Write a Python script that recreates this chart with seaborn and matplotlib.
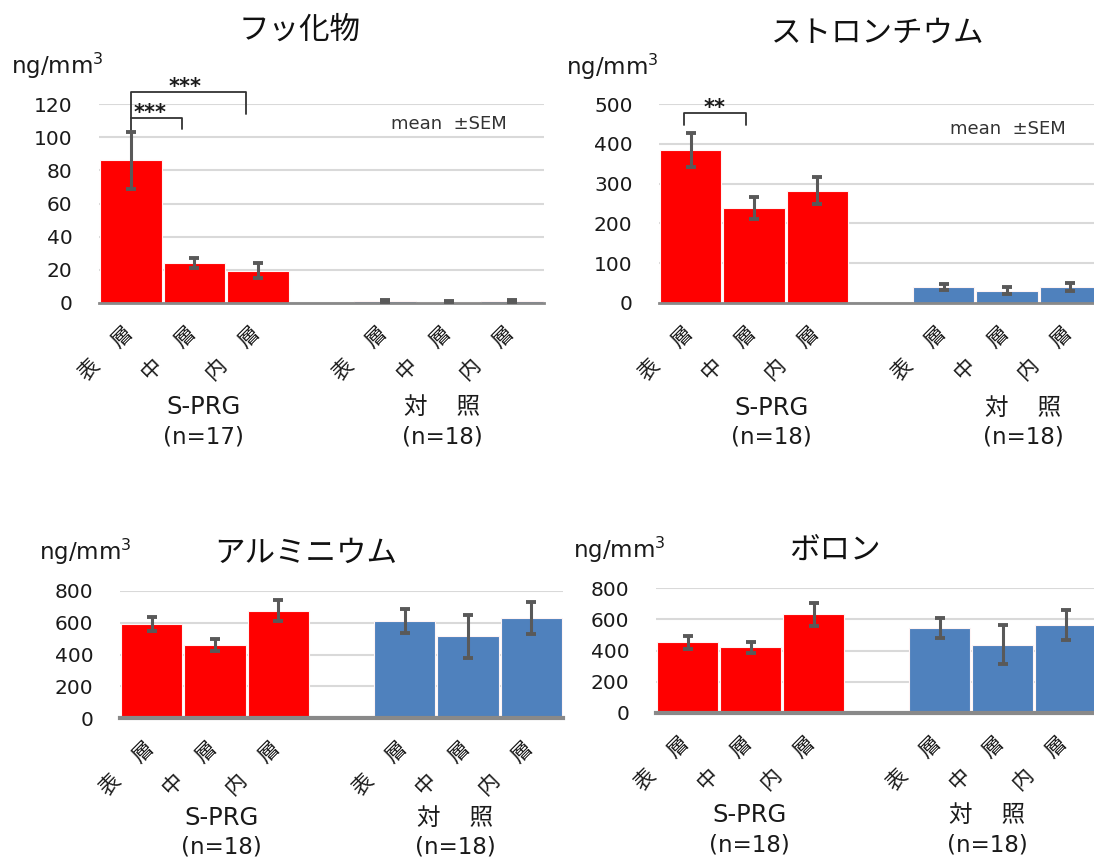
import numpy as np
import pandas as pd
import matplotlib
matplotlib.use("Agg")
import matplotlib.pyplot as plt
import matplotlib.transforms as mtransforms
import seaborn as sns

# ---- data -------------------------------------------------------------
layers = ["表\u3000 層", "中\u3000 層", "内\u3000 層"]
groups = ["S-PRG", "対\u3000 照"]
positions = [0, 1, 2, 4, 5, 6]

fluoride_mean = [86, 24, 19.4, 1.2, 0.9, 1.4]
fluoride_sem = [17, 3, 4.6, 0.6, 0.5, 0.6]
strontium_mean = [385, 238, 282, 40, 31, 40]
strontium_sem = [43, 28, 34, 7, 8, 9]
aluminium_mean = [590, 457, 675, 611, 515, 632]
aluminium_sem = [45, 38, 67, 74, 134, 101]
boron_mean = [453, 421, 632, 543, 438, 564]
boron_sem = [43, 35, 73, 66, 125, 95]

titles = ["フッ化物", "ストロンチウム", "アルミニウム", "ボロン"]
n_sprg = ["(n=17)", "(n=18)", "(n=18)", "(n=18)"]
n_ctrl = ["(n=18)", "(n=18)", "(n=18)", "(n=18)"]
yticks_list = [
    [0, 20, 40, 60, 80, 100, 120],
    [0, 100, 200, 300, 400, 500],
    [0, 200, 400, 600, 800],
    [0, 200, 400, 600, 800],
]
unit = r"ng/mm$^3$"

RED = "#FF0000"
BLUE = "#4F81BD"
ERR = "#595959"
TXT = "#1A1A1A"

W, H = 1094, 859
sns.set_theme(style="white")
plt.rcParams["font.family"] = ["Noto Sans CJK JP", "DejaVu Sans"]
plt.rcParams["mathtext.default"] = "regular"
LATIN = ["DejaVu Sans", "Noto Sans CJK JP"]
CJK = ["Noto Sans CJK JP", "DejaVu Sans"]

fig = plt.figure(figsize=(W / 100, H / 100), dpi=100)


def px_axes(x0, x1, ytop, ybot):
    return fig.add_axes([x0 / W, 1 - ybot / H, (x1 - x0) / W, (ybot - ytop) / H])


def fig_xy(x, y):
    return x / W, 1 - y / H


panels = [
    dict(box=(99, 544, 104, 303), mean=fluoride_mean, sem=fluoride_sem,
         title_xy=(300, 30), unit_xy=(11, 66), spine_lw=2.0,
         grp_x=(1.15, 4.9), grp_y=(407, 437), note=(4.1, 108)),
    dict(box=(659, 1102, 104, 303), mean=strontium_mean, sem=strontium_sem,
         title_xy=(878, 33), unit_xy=(566, 67), spine_lw=2.0,
         grp_x=(1.28, 5.25), grp_y=(408, 437), note=(4.1, 436)),
    dict(box=(120, 563, 591, 718), mean=aluminium_mean, sem=aluminium_sem,
         title_xy=(306, 553), unit_xy=(39, 552), spine_lw=3.0,
         grp_x=(1.1, 4.8), grp_y=(818, 847), note=None),
    dict(box=(656, 1097, 588, 713), mean=boron_mean, sem=boron_sem,
         title_xy=(835, 550), unit_xy=(573, 550), spine_lw=3.0,
         grp_x=(0.99, 4.76), grp_y=(815, 845), note=None),
]

# rotated layer labels sit below and to the left of each bar centre
label_shift = mtransforms.ScaledTranslation(-25 / 100, -51 / 100,
                                            fig.dpi_scale_trans)

for i, p in enumerate(panels):
    ax = px_axes(*p["box"])
    df = pd.DataFrame({
        "pos": positions,
        "value": p["mean"],
        "group": [groups[0]] * 3 + [groups[1]] * 3,
    })
    sns.barplot(data=df, x="pos", y="value", hue="group",
                palette={groups[0]: RED, groups[1]: BLUE}, saturation=1,
                native_scale=True, dodge=False, width=0.97,
                errorbar=None, legend=False, edgecolor="#FFF4F4",
                linewidth=0.8, ax=ax)
    ax.errorbar(positions, p["mean"], yerr=p["sem"], fmt="none",
                ecolor=ERR, elinewidth=2.2, capsize=3.8, capthick=2.8,
                zorder=5)

    yt = yticks_list[i]
    ax.set_xlim(-0.5, 6.5)
    ax.set_ylim(0, yt[-1])
    ax.set_yticks(yt)
    ax.set_yticklabels([str(v) for v in yt], fontsize=14.5, color=TXT,
                       family=LATIN)
    ax.tick_params(axis="both", length=0)
    ax.tick_params(axis="y", pad=19)
    ax.tick_params(axis="x", pad=0)
    ax.set_xticks(positions)
    ax.set_xticklabels(layers * 2, rotation=45, ha="center", va="center",
                       rotation_mode="anchor", fontsize=15, color=TXT,
                       family=CJK)
    for lab in ax.get_xticklabels():
        lab.set_transform(lab.get_transform() + label_shift)
    ax.set_xlabel("")
    ax.set_ylabel("")
    ax.yaxis.grid(True, color="#D9D9D9", linewidth=1.5)
    ax.xaxis.grid(False)
    ax.set_axisbelow(True)
    for side in ("left", "top", "right"):
        ax.spines[side].set_visible(False)
    ax.spines["bottom"].set_color("#898989")
    ax.spines["bottom"].set_linewidth(p["spine_lw"])
    ax.patch.set_alpha(0)

    tx, ty = fig_xy(*p["title_xy"])
    fig.text(tx, ty, titles[i], ha="center", va="center", fontsize=22,
             color="#111111", family=CJK)
    ux, uy = fig_xy(*p["unit_xy"])
    fig.text(ux, uy, unit, ha="left", va="center", fontsize=16.5,
             color=TXT, family=LATIN)

    blend = mtransforms.blended_transform_factory(ax.transData, fig.transFigure)
    gx1, gx2 = p["grp_x"]
    gy1, gy2 = p["grp_y"]
    ax.text(gx1, 1 - gy1 / H, groups[0], transform=blend, ha="center",
            va="center", fontsize=17.5, color=TXT, family=LATIN)
    ax.text(gx2, 1 - gy1 / H, groups[1], transform=blend, ha="center",
            va="center", fontsize=17, color=TXT, family=CJK)
    ax.text(gx1, 1 - gy2 / H, n_sprg[i], transform=blend, ha="center",
            va="center", fontsize=16.5, color=TXT, family=LATIN)
    ax.text(gx2, 1 - gy2 / H, n_ctrl[i], transform=blend, ha="center",
            va="center", fontsize=16.5, color=TXT, family=LATIN)

    if p["note"] is not None:
        ax.text(p["note"][0], p["note"][1], "mean  ±SEM", ha="left",
                va="center", fontsize=13, color="#333333", family=LATIN)

    # significance brackets
    bk = dict(color="#333333", lw=1.3, clip_on=False)
    st = dict(fontsize=15, fontweight="bold", color=TXT, clip_on=False,
              family=LATIN)
    if i == 0:
        ax.plot([0, 0, 0.8, 0.8], [104, 111.6, 111.6, 105], **bk)
        ax.text(0.04, 108.6, "***", ha="left", va="bottom", **st)
        ax.plot([0, 0, 1.82, 1.82], [111.6, 127, 127, 114], **bk)
        ax.text(0.86, 124.0, "***", ha="center", va="bottom", **st)
    if i == 1:
        ax.plot([-0.1, -0.1, 0.88, 0.88], [447, 477, 477, 447], **bk)
        ax.text(0.38, 465, "**", ha="center", va="bottom", **st)

fig.savefig("out.png", dpi=100, facecolor="white")
